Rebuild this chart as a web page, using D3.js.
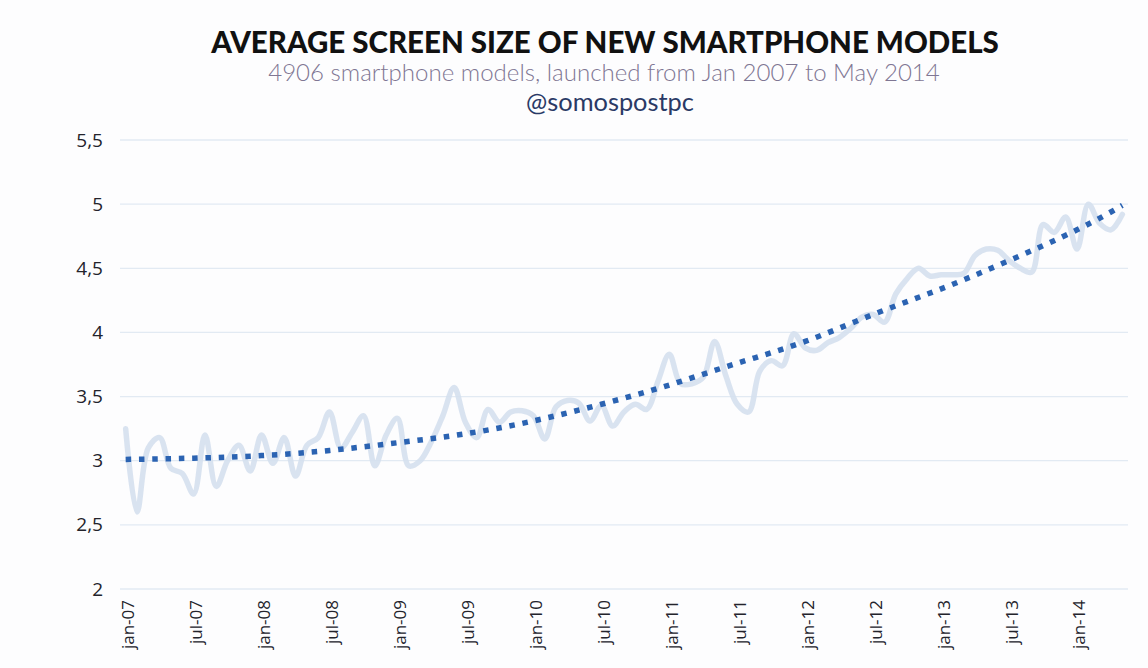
<!DOCTYPE html>
<html>
<head>
<meta charset="utf-8">
<script src="https://cdn.jsdelivr.net/npm/d3@7/dist/d3.min.js"></script>
<style>
  html, body { margin: 0; padding: 0; background: #fdfdfe; }
  svg { display: block; }
</style>
</head>
<body>
<svg id="chart" width="1148" height="668"></svg>
<script>
// ---- DATA ----
const title = "AVERAGE SCREEN SIZE OF NEW SMARTPHONE MODELS";
const subtitle = "4906 smartphone models, launched from Jan 2007 to May 2014";
const handle = "@somospostpc";

// months Jan 2007 .. May 2014 (89 categories)
const categories = d3.timeMonths(new Date(2007, 0, 1), new Date(2014, 5, 1));

// average screen size (inches), one value per month
const screenSize = [
  3.25, 2.60, 3.10, 3.18, 2.94, 2.90, 2.74, 3.20, 2.80, 3.00,
  3.12, 2.92, 3.20, 2.98, 3.18, 2.88, 3.12, 3.18, 3.38, 3.10,
  3.22, 3.35, 2.96, 3.20, 3.33, 2.96, 3.00, 3.15, 3.35, 3.57,
  3.30, 3.18, 3.40, 3.30, 3.38, 3.39, 3.35, 3.17, 3.42, 3.47,
  3.45, 3.31, 3.43, 3.27, 3.38, 3.44, 3.40, 3.62, 3.83, 3.60,
  3.60, 3.65, 3.93, 3.66, 3.44, 3.38, 3.70, 3.78, 3.74, 3.99,
  3.88, 3.86, 3.92, 3.96, 4.03, 4.12, 4.14, 4.08, 4.30, 4.42,
  4.50, 4.44, 4.45, 4.45, 4.46, 4.60, 4.65, 4.64, 4.56, 4.50,
  4.47, 4.84, 4.78, 4.90, 4.65, 5.00, 4.85, 4.80, 4.92
];

// trend line (month index, value)
const trendMonths = [0, 6, 12, 18, 24, 30, 36, 42, 48, 54, 60, 66, 72, 78, 84, 88];
const trendValues = [3.01, 3.02, 3.04, 3.08, 3.14, 3.21, 3.31, 3.44, 3.59, 3.76, 3.93, 4.14, 4.34, 4.56, 4.80, 4.99];

const yTicks = [2, 2.5, 3, 3.5, 4, 4.5, 5, 5.5];
const xTickMonths = [0, 6, 12, 18, 24, 30, 36, 42, 48, 54, 60, 66, 72, 78, 84];
const xTickLabels = ["jan-07", "jul-07", "jan-08", "jul-08", "jan-09", "jul-09", "jan-10", "jul-10",
                     "jan-11", "jul-11", "jan-12", "jul-12", "jan-13", "jul-13", "jan-14"];

// ---- CHART ----
const svg = d3.select("#chart");
const W = 1148, H = 668;
const plot = { left: 120, right: 1128, top: 140, bottom: 589 };

svg.append("rect").attr("width", W).attr("height", H).attr("fill", "#fdfdfe");

const x = d3.scalePoint()
  .domain(d3.range(categories.length))
  .range([plot.left, plot.right])
  .padding(0.5);

const y = d3.scaleLinear().domain([2, 5.5]).range([plot.bottom, plot.top]);

const esLocale = d3.formatLocale({ decimal: ",", thousands: ".", grouping: [3], currency: ["", "€"] });
const fmt = esLocale.format(".1~f");

// gridlines
svg.append("g")
  .selectAll("line")
  .data(yTicks)
  .join("line")
  .attr("x1", plot.left).attr("x2", plot.right)
  .attr("y1", d => y(d)).attr("y2", d => y(d))
  .attr("stroke", "#e2eaf3")
  .attr("stroke-width", 1.3);

// y axis labels
const yAxis = d3.axisLeft(y).tickValues(yTicks).tickFormat(fmt).tickSize(0).tickPadding(17);
const gy = svg.append("g").attr("transform", `translate(${plot.left},0)`).call(yAxis);
gy.select(".domain").remove();
gy.selectAll("text")
  .attr("font-family", "'Open Sans', Lato, sans-serif")
  .attr("font-size", 19)
  .attr("fill", "#23232b");

// x axis labels
const xLabelMap = new Map(xTickMonths.map((m, i) => [m, xTickLabels[i]]));
const xAxis = d3.axisBottom(x).tickValues(xTickMonths).tickFormat(m => xLabelMap.get(m)).tickSize(0).tickPadding(0);
const gx = svg.append("g").attr("transform", `translate(0,${plot.bottom})`).call(xAxis);
gx.select(".domain").remove();
gx.selectAll("text")
  .attr("font-family", "'Open Sans', Lato, sans-serif")
  .attr("font-size", 17)
  .attr("fill", "#23232b")
  .attr("text-anchor", "end")
  .attr("dy", "0.35em")
  .attr("transform", "translate(2,11) rotate(-90)");

// main line
const line = d3.line()
  .x((d, i) => x(i))
  .y(d => y(d))
  .curve(d3.curveCatmullRom.alpha(0.5));

svg.append("path")
  .datum(screenSize)
  .attr("d", line)
  .attr("fill", "none")
  .attr("stroke", "#d5e0ee")
  .attr("stroke-width", 5.5)
  .attr("stroke-linejoin", "round")
  .attr("stroke-linecap", "round")
  .attr("opacity", 0.9);

// trend line (dotted)
const trendLine = d3.line()
  .x((d, i) => x(trendMonths[i]))
  .y(d => y(d))
  .curve(d3.curveNatural);

svg.append("path")
  .datum(trendValues)
  .attr("d", trendLine)
  .attr("fill", "none")
  .attr("stroke", "#2b63b2")
  .attr("stroke-width", 5.5)
  .attr("stroke-dasharray", "5.5,7.8")
  .attr("stroke-linecap", "butt");

// titles
function fitText(sel, targetWidth) {
  const node = sel.node();
  const w = node.getComputedTextLength();
  const fs = parseFloat(sel.attr("font-size"));
  if (w > 0) sel.attr("font-size", fs * targetWidth / w);
}

const t1 = svg.append("text")
  .attr("x", 605).attr("y", 53)
  .attr("text-anchor", "middle")
  .attr("font-family", "Lato, 'Open Sans', sans-serif")
  .attr("font-weight", 900)
  .attr("font-size", 28)
  .attr("fill", "#111111")
  .text(title);
fitText(t1, 788);

const t2 = svg.append("text")
  .attr("x", 604).attr("y", 81)
  .attr("text-anchor", "middle")
  .attr("font-family", "Lato, 'Open Sans', sans-serif")
  .attr("font-weight", 300)
  .attr("font-size", 20)
  .attr("fill", "#7f7693")
  .text(subtitle);
fitText(t2, 672);

const t3 = svg.append("text")
  .attr("x", 610).attr("y", 111)
  .attr("text-anchor", "middle")
  .attr("font-family", "Lato, 'Open Sans', sans-serif")
  .attr("font-weight", 400)
  .attr("font-size", 19)
  .attr("fill", "#2a3a66")
  .text(handle);
fitText(t3, 168);
</script>
</body>
</html>
